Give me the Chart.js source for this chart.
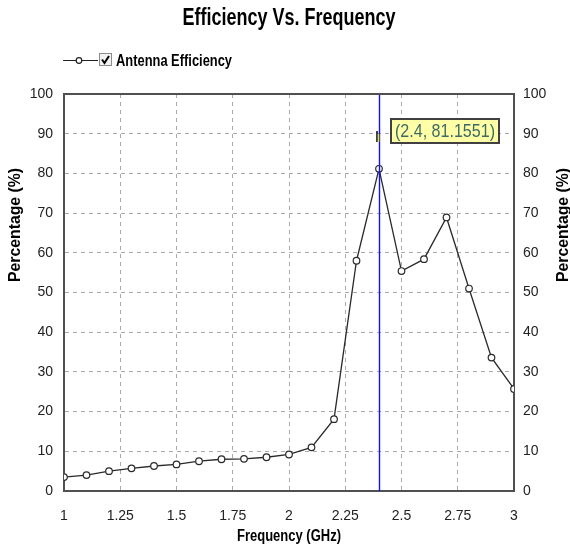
<!DOCTYPE html>
<html>
<head>
<meta charset="utf-8">
<script src="https://cdn.jsdelivr.net/npm/chart.js@4.4.0/dist/chart.umd.min.js"></script>
<style>
html,body{margin:0;padding:0;background:#fff}
.chart-container{width:570px;height:546px}
</style>
</head>
<body>
<div class="chart-container"><canvas id="myLine"></canvas></div>
<script>
// data
var freq = [1.0, 1.1, 1.2, 1.3, 1.4, 1.5, 1.6, 1.7, 1.8, 1.9, 2.0, 2.1, 2.2, 2.3, 2.4, 2.5, 2.6, 2.7, 2.8, 2.9, 3.0];
var efficiency = [3.5, 4.0, 5.0, 5.7, 6.3, 6.7, 7.5, 8.0, 8.1, 8.5, 9.2, 11.0, 18.1, 58.0, 81.1551, 55.4, 58.4, 68.9, 51.0, 33.6, 25.7];
var xTicks = [1, 1.25, 1.5, 1.75, 2, 2.25, 2.5, 2.75, 3];
var yTicks = [0, 10, 20, 30, 40, 50, 60, 70, 80, 90, 100];
var markerX = 2.4;
var markerY = 81.1551;
var markerLabel = '(' + markerX + ', ' + markerY + ')';

var FONT = "'Liberation Sans', Arial, sans-serif";

var points = [];
for (var i = 0; i < freq.length; i++) {
	points.push({x: freq[i], y: efficiency[i]});
}

// draws text squeezed sideways to look like a narrow face
function narrowText(c, text, x, y, width, align) {
	var w = c.measureText(text).width;
	var k = Math.min(1, width / w);
	c.save();
	c.translate(x, y);
	c.scale(k, 1);
	c.textAlign = align || 'center';
	c.fillText(text, 0, 0);
	c.restore();
}

var extras = {
	id: 'extras',
	afterDatasetsDraw: function (chart) {
		var c = chart.ctx, a = chart.chartArea;
		var px = Math.round(chart.scales.x.getPixelForValue(markerX));
		c.save();
		c.strokeStyle = '#1010ff';
		c.lineWidth = 1.4;
		c.beginPath();
		c.moveTo(px + 0.5, a.top);
		c.lineTo(px + 0.5, a.bottom);
		c.stroke();
		c.restore();
	},
	afterDraw: function (chart) {
		var c = chart.ctx, a = chart.chartArea;
		var sx = chart.scales.x, sy = chart.scales.y;
		c.save();
		// top frame line
		c.strokeStyle = '#505050';
		c.lineWidth = 2;
		c.beginPath();
		c.moveTo(a.left - 1, a.top);
		c.lineTo(a.right + 1, a.top);
		c.stroke();

		// title
		c.fillStyle = '#000';
		c.textBaseline = 'middle';
		c.font = 'bold 23px ' + FONT;
		narrowText(c, 'Efficiency Vs. Frequency', 289, 19, 213);

		// legend
		var ly = 60;
		c.strokeStyle = '#222';
		c.lineWidth = 1.2;
		c.beginPath();
		c.moveTo(63, ly + 0.5);
		c.lineTo(98, ly + 0.5);
		c.stroke();
		c.fillStyle = '#fff';
		c.beginPath();
		c.arc(79, ly + 0.5, 2.8, 0, Math.PI * 2);
		c.fill(); c.stroke();
		c.fillStyle = '#f2f2f2';
		c.fillRect(99, ly - 7, 13, 13);
		c.strokeStyle = '#8a8a8a';
		c.lineWidth = 1;
		c.strokeRect(99.5, ly - 6.5, 12, 12);
		c.strokeStyle = '#000';
		c.lineWidth = 2;
		c.beginPath();
		c.moveTo(102, ly - 0.5); c.lineTo(104.5, ly + 3); c.lineTo(109, ly - 4);
		c.stroke();
		c.fillStyle = '#000';
		c.font = 'bold 17px ' + FONT;
		narrowText(c, 'Antenna Efficiency', 116, ly + 1, 116, 'left');

		// axis titles (both y titles read bottom to top)
		c.font = 'bold 16px ' + FONT;
		narrowText(c, 'Frequency (GHz)', 289, 537, 104);
		c.save();
		c.translate(16, 225);
		c.rotate(-Math.PI / 2);
		narrowText(c, 'Percentage (%)', 0, 0, 114);
		c.restore();
		c.save();
		c.translate(564, 225);
		c.rotate(-Math.PI / 2);
		narrowText(c, 'Percentage (%)', 0, 0, 114);
		c.restore();

		// marker readout box
		var px = Math.round(sx.getPixelForValue(markerX));
		var py = Math.round(sy.getPixelForValue(90));
		c.strokeStyle = '#000';
		c.lineWidth = 1.5;
		c.beginPath();
		c.moveTo(px - 2, py - 3);
		c.lineTo(px - 2, py + 8);
		c.stroke();
		c.strokeStyle = '#e8e800';
		c.beginPath();
		c.moveTo(px - 0.5, py);
		c.lineTo(px - 0.5, py + 8);
		c.stroke();
		var bx = px + 12, by = py - 15, bw = 108, bh = 24;
		c.fillStyle = '#ffffa8';
		c.fillRect(bx, by, bw, bh);
		c.strokeStyle = '#404040';
		c.lineWidth = 2;
		c.strokeRect(bx, by, bw, bh);
		c.fillStyle = '#3d6b62';
		c.font = '19px ' + FONT;
		narrowText(c, markerLabel, bx + bw / 2, by + bh / 2 + 1, 100);
		c.restore();
	}
};

var ctx = document.getElementById('myLine').getContext('2d');
var myChart = new Chart(ctx, {
	type: 'line',
	data: {
		datasets: [{
			label: 'Antenna Efficiency',
			data: points,
			borderColor: '#2a2a2a',
			borderWidth: 1.3,
			backgroundColor: '#fff',
			pointBackgroundColor: '#fff',
			pointBorderColor: '#2a2a2a',
			pointBorderWidth: 1.2,
			pointRadius: 3.3,
			fill: false,
			tension: 0
		}]
	},
	options: {
		responsive: true,
		maintainAspectRatio: false,
		animation: false,
		layout: {padding: {top: 94, left: 0, right: 0, bottom: 0}},
		plugins: {
			legend: {display: false},
			title: {display: false},
			tooltip: {enabled: false}
		},
		scales: {
			x: {
				type: 'linear',
				min: 1,
				max: 3,
				afterBuildTicks: function (s) { s.ticks = xTicks.map(function (v) { return {value: v}; }); },
				afterFit: function (s) { s.height = 55; },
				ticks: {
					padding: 17,
					color: '#222',
					font: {family: FONT, size: 14},
					callback: function (v) { return String(v); }
				},
				grid: {color: '#aaaaaa', drawTicks: false},
				border: {display: true, color: '#505050', width: 2, dash: [4, 4]}
			},
			y: {
				position: 'left',
				min: 0,
				max: 100,
				afterBuildTicks: function (s) { s.ticks = yTicks.map(function (v) { return {value: v}; }); },
				afterFit: function (s) { s.width = 64; },
				ticks: {padding: 11, color: '#222', font: {family: FONT, size: 14}},
				grid: {color: '#aaaaaa', drawTicks: false},
				border: {display: true, color: '#505050', width: 2, dash: [4, 4]}
			},
			y2: {
				position: 'right',
				min: 0,
				max: 100,
				afterBuildTicks: function (s) { s.ticks = yTicks.map(function (v) { return {value: v}; }); },
				afterFit: function (s) { s.width = 56; },
				ticks: {padding: 9, color: '#222', font: {family: FONT, size: 14}},
				grid: {drawOnChartArea: false, drawTicks: false},
				border: {display: true, color: '#505050', width: 2}
			}
		}
	},
	plugins: [extras]
});
</script>
</body>
</html>
